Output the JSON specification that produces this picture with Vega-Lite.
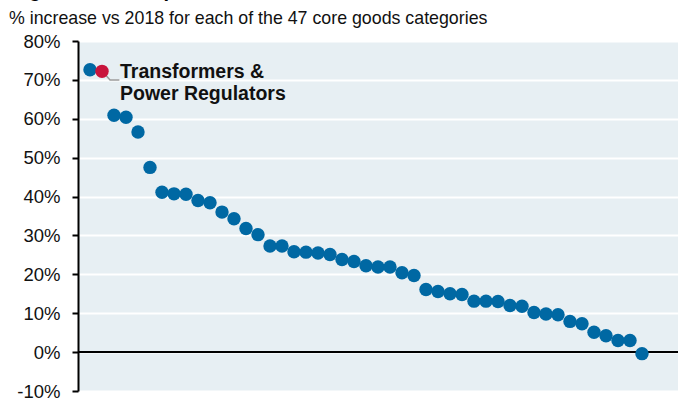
{
  "$schema": "https://vega.github.io/schema/vega-lite/v6.json",
  "autosize": {"type": "none"},
  "padding": {"left": 78, "top": 41, "right": 0, "bottom": 13},
  "width": 600,
  "height": 350,
  "background": "white",
  "title": {
    "text": "Big tariff-driven price increases",
    "subtitle": "% increase vs 2018 for each of the 47 core goods categories",
    "anchor": "start",
    "frame": "group",
    "dx": -69,
    "offset": 4,
    "font": "Liberation Sans",
    "fontSize": 20,
    "fontWeight": "bold",
    "color": "black",
    "subtitleFont": "Liberation Sans",
    "subtitleFontSize": 17.8,
    "subtitleColor": "#111",
    "subtitlePadding": 9
  },
  "config": {
    "font": "Liberation Sans",
    "view": {"fill": "#E7EFF3", "stroke": null}
  },
  "datasets": {
    "pts": [
      {"idx": 1, "value": 72.6, "hl": "no"},
      {"idx": 2, "value": 72.2, "hl": "yes"},
      {"idx": 3, "value": 60.9, "hl": "no"},
      {"idx": 4, "value": 60.4, "hl": "no"},
      {"idx": 5, "value": 56.6, "hl": "no"},
      {"idx": 6, "value": 47.5, "hl": "no"},
      {"idx": 7, "value": 41.1, "hl": "no"},
      {"idx": 8, "value": 40.7, "hl": "no"},
      {"idx": 9, "value": 40.6, "hl": "no"},
      {"idx": 10, "value": 39.0, "hl": "no"},
      {"idx": 11, "value": 38.4, "hl": "no"},
      {"idx": 12, "value": 36.0, "hl": "no"},
      {"idx": 13, "value": 34.3, "hl": "no"},
      {"idx": 14, "value": 31.8, "hl": "no"},
      {"idx": 15, "value": 30.2, "hl": "no"},
      {"idx": 16, "value": 27.3, "hl": "no"},
      {"idx": 17, "value": 27.3, "hl": "no"},
      {"idx": 18, "value": 25.8, "hl": "no"},
      {"idx": 19, "value": 25.7, "hl": "no"},
      {"idx": 20, "value": 25.5, "hl": "no"},
      {"idx": 21, "value": 25.1, "hl": "no"},
      {"idx": 22, "value": 23.8, "hl": "no"},
      {"idx": 23, "value": 23.3, "hl": "no"},
      {"idx": 24, "value": 22.2, "hl": "no"},
      {"idx": 25, "value": 21.9, "hl": "no"},
      {"idx": 26, "value": 21.9, "hl": "no"},
      {"idx": 27, "value": 20.4, "hl": "no"},
      {"idx": 28, "value": 19.7, "hl": "no"},
      {"idx": 29, "value": 16.1, "hl": "no"},
      {"idx": 30, "value": 15.6, "hl": "no"},
      {"idx": 31, "value": 15.0, "hl": "no"},
      {"idx": 32, "value": 14.8, "hl": "no"},
      {"idx": 33, "value": 13.1, "hl": "no"},
      {"idx": 34, "value": 13.1, "hl": "no"},
      {"idx": 35, "value": 13.0, "hl": "no"},
      {"idx": 36, "value": 12.0, "hl": "no"},
      {"idx": 37, "value": 11.8, "hl": "no"},
      {"idx": 38, "value": 10.2, "hl": "no"},
      {"idx": 39, "value": 9.8, "hl": "no"},
      {"idx": 40, "value": 9.6, "hl": "no"},
      {"idx": 41, "value": 7.9, "hl": "no"},
      {"idx": 42, "value": 7.3, "hl": "no"},
      {"idx": 43, "value": 5.1, "hl": "no"},
      {"idx": 44, "value": 4.2, "hl": "no"},
      {"idx": 45, "value": 3.0, "hl": "no"},
      {"idx": 46, "value": 3.0, "hl": "no"},
      {"idx": 47, "value": -0.4, "hl": "no"}
    ],
    "leader": [
      {"idx": 2.03, "value": 72.2, "ord": 1},
      {"idx": 2.67, "value": 70.0, "ord": 2},
      {"idx": 3.45, "value": 70.0, "ord": 3}
    ],
    "label": [
      {"idx": 3.5, "value": 70.55, "text": "Transformers &\nPower Regulators"}
    ],
    "zero": [{"value": 0}]
  },
  "encoding": {
    "y": {
      "field": "value",
      "type": "quantitative",
      "scale": {"domain": [-10, 80], "nice": false, "zero": false},
      "axis": {
        "title": null,
        "values": [-10, 0, 10, 20, 30, 40, 50, 60, 70, 80],
        "labelExpr": "datum.value + '%'",
        "labelFontSize": 18.5,
        "labelColor": "#111",
        "labelPadding": 12,
        "tickSize": 6,
        "tickColor": "black",
        "tickWidth": 2,
        "domainColor": "black",
        "domainWidth": 2,
        "grid": true,
        "gridColor": "white",
        "gridWidth": 2
      }
    }
  },
  "layer": [
    {
      "data": {"name": "zero"},
      "mark": {"type": "rule", "color": "black", "strokeWidth": 2},
      "encoding": {}
    },
    {
      "data": {"name": "leader"},
      "mark": {"type": "line", "color": "#9a9a9a", "strokeWidth": 1.5},
      "encoding": {
        "x": {"field": "idx", "type": "quantitative", "scale": {"domain": [0, 50], "nice": false, "zero": false}, "axis": null},
        "order": {"field": "ord"}
      }
    },
    {
      "data": {"name": "pts"},
      "mark": {"type": "circle", "opacity": 1, "size": 180},
      "encoding": {
        "x": {"field": "idx", "type": "quantitative", "scale": {"domain": [0, 50], "nice": false, "zero": false}, "axis": null},
        "color": {
          "field": "hl",
          "type": "nominal",
          "scale": {"domain": ["no", "yes"], "range": ["#0068A3", "#C8143C"]},
          "legend": null
        }
      }
    },
    {
      "data": {"name": "label"},
      "mark": {"type": "text", "align": "left", "baseline": "alphabetic", "fontSize": 19.5, "fontWeight": "bold", "color": "#111", "lineBreak": "\n", "lineHeight": 22},
      "encoding": {
        "x": {"field": "idx", "type": "quantitative", "scale": {"domain": [0, 50], "nice": false, "zero": false}, "axis": null},
        "text": {"field": "text"}
      }
    }
  ]
}
